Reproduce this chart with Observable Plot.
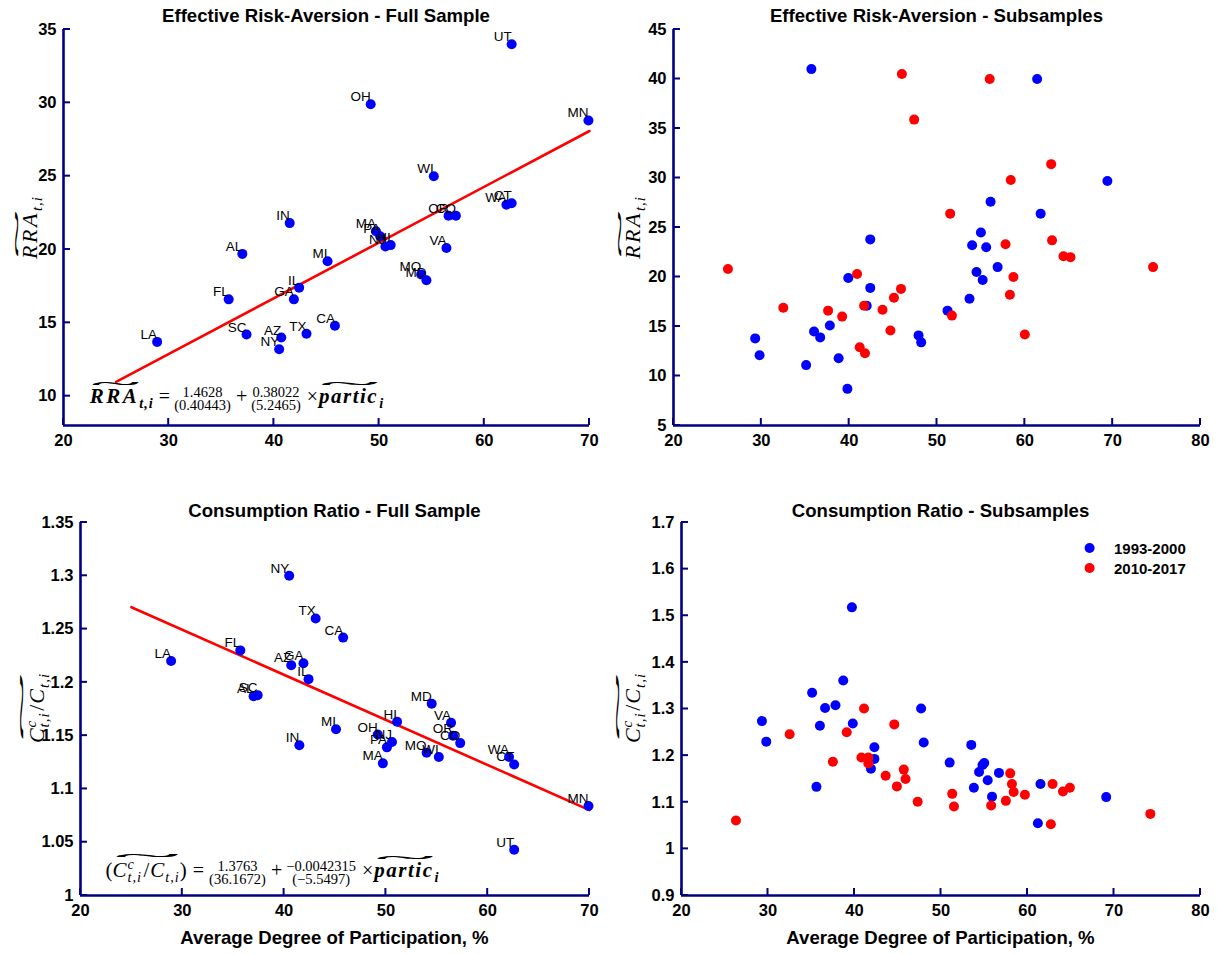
<!DOCTYPE html>
<html><head><meta charset="utf-8">
<script src="https://cdn.jsdelivr.net/npm/d3@7"></script>
<script src="https://cdn.jsdelivr.net/npm/@observablehq/plot@0.6"></script>
<style>
html,body{margin:0;padding:0;background:#fff;}
#wrap{position:relative;width:1217px;height:954px;overflow:hidden;background:#fff;}
#wrap > svg{position:absolute;}
</style></head>
<body><div id="wrap"></div>
<script>
const SANS = "'Liberation Sans', Arial, Helvetica, sans-serif";
const SERIF = "'Liberation Serif', 'Times New Roman', serif";
const BLUE = "#0000ff", RED = "#ff0000", INK = "#000080";

// ---------- Full sample: state averages ----------
const states     = ["UT","OH","MN","WI","WA","CT","OR","CO","VA","IN","MA","PA","NJ","HI","AL","SC","MI","MO","MD","IL","FL","GA","AZ","CA","TX","LA","NY"];
const fullPartic = [62.6,49.2,69.9,55.2,62.1,62.6,56.6,57.3,56.4,41.5,49.7,50.1,50.6,51.1,37.0,37.4,45.1,54.0,54.5,42.4,35.7,41.9,40.7,45.8,43.1,28.9,40.5];
const fullRRA    = [34.0,29.9,28.8,25.0,23.05,23.15,22.3,22.3,20.1,21.8,21.25,20.9,20.2,20.3,19.7,14.2,19.2,18.3,17.9,17.4,16.6,16.6,14.0,14.8,14.25,13.7,13.2];
const fullCons   = [1.043,1.151,1.084,1.130,1.130,1.123,1.150,1.143,1.162,1.141,1.124,1.139,1.144,1.163,1.187,1.188,1.156,1.134,1.180,1.203,1.230,1.218,1.216,1.242,1.260,1.220,1.300];

// fitted lines (end points)
const fitX    = [25, 70];
const fitRRA  = [10.97, 28.08];
const fitCons = [1.2705, 1.0801];

// ---------- Subsamples ----------
const periods = ["1993-2000", "2010-2017"];
const rra93x = [29.3,29.8,35.1,36.0,36.7,37.8,38.8,39.8,39.9,42.4,42.4,42.0,47.9,48.2,51.2,53.7,54.0,54.5,55.0,55.2,55.6,56.9,35.7,61.4,69.4,56.1,61.8];
const rra93y = [13.8,12.1,11.1,14.5,13.9,15.1,11.8,8.7,19.9,23.8,18.9,17.1,14.1,13.4,16.6,17.8,23.2,20.5,24.5,19.7,23.0,21.0,41.0,40.0,29.7,27.6,26.4];
const rra10x = [26.2,32.5,37.6,39.2,40.9,41.2,41.8,41.7,43.8,44.7,45.1,45.9,46.0,47.4,51.5,51.7,56.0,57.8,58.4,58.7,58.3,60.0,63.0,63.1,64.4,65.2,74.6];
const rra10y = [20.8,16.9,16.6,16.0,20.3,12.9,12.3,17.1,16.7,14.6,17.9,18.8,40.5,35.9,26.4,16.1,40.0,23.3,29.8,20.0,18.2,14.2,31.4,23.7,22.1,22.0,21.0];
const cons93x = [29.3,29.8,35.6,36.0,36.6,37.8,39.8,42.3,42.3,41.9,47.7,48.0,51.0,53.5,53.8,54.4,54.8,55.0,55.4,55.9,56.7,61.5,61.2,69.1,39.7,38.7,35.1];
const cons93y = [1.274,1.230,1.133,1.264,1.302,1.308,1.269,1.218,1.193,1.172,1.301,1.228,1.185,1.223,1.131,1.165,1.180,1.184,1.147,1.112,1.163,1.139,1.055,1.111,1.518,1.361,1.335];
const cons10x = [26.3,32.5,37.5,39.1,40.8,41.6,41.6,41.1,43.6,44.6,44.9,45.7,45.9,47.3,51.3,51.5,55.8,57.5,58.0,58.2,58.4,59.7,62.9,62.7,64.1,64.9,74.2];
const cons10y = [1.061,1.246,1.187,1.250,1.196,1.196,1.183,1.301,1.157,1.267,1.134,1.170,1.150,1.101,1.118,1.091,1.093,1.103,1.162,1.139,1.122,1.116,1.139,1.053,1.123,1.131,1.075];

// ---------- ticks & texts ----------
const xTicksFull = [20,30,40,50,60,70];
const xTicksSub  = [20,30,40,50,60,70,80];
const yTicksRRAFull  = [10,15,20,25,30,35];
const yTicksRRASub   = [5,10,15,20,25,30,35,40,45];
const yTicksConsFull = [1,1.05,1.1,1.15,1.2,1.25,1.3,1.35];
const yTicksConsSub  = [0.9,1,1.1,1.2,1.3,1.4,1.5,1.6,1.7];
const titles = ["Effective Risk-Aversion - Full Sample","Effective Risk-Aversion - Subsamples","Consumption Ratio - Full Sample","Consumption Ratio - Subsamples"];
const xLabel = "Average Degree of Participation, %";

const full = states.map((s, i) => ({s, p: fullPartic[i], rra: fullRRA[i], c: fullCons[i]}));
const fitData = fitX.map((x, i) => ({x, rra: fitRRA[i], c: fitCons[i]}));
const pts = (xs, ys) => xs.map((x, i) => ({x, y: ys[i]}));

const wrap = document.getElementById("wrap");
const fmt = d => String(+d.toFixed(2));

function panel(o) {
  const [x0, x1] = o.xd, [y0, y1] = o.yd;
  const svg = Plot.plot({
    width: o.w, height: o.h,
    marginLeft: o.ml, marginRight: o.mr, marginTop: o.mt, marginBottom: o.mb,
    x: {domain: o.xd}, y: {domain: o.yd},
    style: {fontFamily: SANS, fontSize: "16.5px", fontWeight: "bold", color: "black", background: "white", overflow: "visible"},
    marks: [
      Plot.axisX({ticks: o.xt, tickSize: 0, tickPadding: 9, label: null, tickFormat: fmt}),
      Plot.axisY({ticks: o.yt, tickSize: 0, tickPadding: 7, label: null, tickFormat: fmt}),
      ...o.marks,
      Plot.ruleX([x0], {y1: y0, y2: y1, stroke: INK, strokeWidth: 2.6}),
      Plot.ruleY([y0], {x1: x0, x2: x1, stroke: INK, strokeWidth: 2.6})
    ]
  });
  svg.style.left = o.left + "px";
  svg.style.top = o.top + "px";
  wrap.appendChild(svg);
  // inward ticks, placed with the plot's own scales
  const sx = svg.scale("x"), sy = svg.scale("y");
  const X0 = sx.apply(x0), Y0 = sy.apply(y0);
  const g = d3.select(svg).append("g");
  o.xt.forEach(t => {
    const X = sx.apply(t);
    g.append("rect").attr("x", X - 1).attr("y", Y0 - 7).attr("width", 2).attr("height", 7).attr("fill", INK);
  });
  o.yt.forEach(t => {
    const Y = sy.apply(t);
    g.append("rect").attr("x", X0).attr("y", Y - 1).attr("width", 7).attr("height", 2).attr("fill", INK);
  });
  return svg;
}

// ---- text helpers ----
function put(g, x, y, str, o = {}) {
  const t = g.append("text").attr("x", x).attr("y", y).text(str)
    .attr("font-family", o.family || SERIF).attr("font-size", o.size || 19)
    .attr("font-style", o.italic ? "italic" : "normal")
    .attr("font-weight", o.bold ? "bold" : "normal")
    .attr("letter-spacing", o.ls || 0)
    .attr("text-anchor", o.anchor || "start").attr("fill", "#000");
  return t.node().getComputedTextLength();
}
function tilde(g, x0, x1, yc) {
  const fs = 16, sy = 0.85;
  const t = g.append("text").text("~").attr("font-family", SERIF).attr("font-size", fs)
    .attr("text-anchor", "middle").attr("fill", "#000");
  const base = t.node().getComputedTextLength();
  const sx = (x1 - x0) / base;
  t.attr("transform", `translate(${(x0 + x1) / 2},${yc + 0.27 * fs * sy}) scale(${sx},${sy})`);
}
function textWidth(g, str, size) {
  const t = g.append("text").attr("font-family", SERIF).attr("font-size", size).text(str);
  const w = t.node().getComputedTextLength(); t.remove(); return w;
}
function frac(g, x, y, num, den, size) {
  const w = Math.max(textWidth(g, num, size), textWidth(g, den, size));
  put(g, x + w / 2, y - 6.5, num, {size, anchor: "middle"});
  put(g, x + w / 2, y + 7, den, {size, anchor: "middle"});
  return w;
}
function rraSymbol(g, x, y, size, bold) {
  const w = put(g, x, y, "RRA", {size, italic: true, bold, ls: 2.5});
  tilde(g, x + 2, x + w, y - size * 0.86);
  const ws = put(g, x + w, y + 4.5, "t,i", {size: size * 0.68, italic: true, bold, ls: 1});
  return w + ws;
}
function consSymbol(g, x, y, size) {
  let cx = x;
  cx += put(g, cx, y, "C", {size, italic: true}) + 1;
  const a = put(g, cx, y - 8.5, "c", {size: size * 0.68, italic: true});
  const b = put(g, cx, y + 5, "t,i", {size: size * 0.68, italic: true, ls: 1});
  cx += Math.max(a, b) + 1.5;
  cx += put(g, cx, y, "/", {size}) + 1;
  cx += put(g, cx, y, "C", {size, italic: true}) + 1;
  cx += put(g, cx, y + 5, "t,i", {size: size * 0.68, italic: true, ls: 1});
  tilde(g, x + 3, cx - 1, y - size * 0.95);
  return cx - x;
}
function particSymbol(g, x, y, size) {
  const w = put(g, x, y, "partic", {size, italic: true, bold: true, ls: 1.5});
  tilde(g, x + 2, x + w, y - size * 0.86);
  const ws = put(g, x + w + 1, y + 4.5, "i", {size: size * 0.68, italic: true, bold: true});
  return w + 1 + ws;
}
function yLabel(svg, bx, cy, kind) {
  const g = d3.select(svg).append("g");
  const inner = g.append("g");
  if (kind === "rra") rraSymbol(inner, 0, 0, 22, false);
  else consSymbol(inner, 0, 0, 22);
  const bb = inner.node().getBBox();
  inner.attr("transform", `translate(${-bb.x - bb.width / 2},0)`);
  g.attr("transform", `translate(${bx},${cy}) rotate(-90)`);
}
function title(svg, o, str, y) {
  const cx = (o.ml + o.w - o.mr) / 2;
  put(d3.select(svg), cx, y, str, {family: SANS, size: 18.6, bold: true, anchor: "middle"});
}
function xTitle(svg, o, y) {
  const cx = (o.ml + o.w - o.mr) / 2;
  put(d3.select(svg), cx, y, xLabel, {family: SANS, size: 18.6, bold: true, anchor: "middle"});
}

const dotOpts = {r: 5, stroke: null};
const labelOpts = {textAnchor: "end", lineAnchor: "bottom", dx: 0, dy: -3, fontSize: 13.5, fontWeight: "normal", fill: "#000", fontFamily: SANS};

// ---------- Panel 1: RRA full sample ----------
const o1 = {left: 0, top: 0, w: 605, h: 470, ml: 63, mr: 16, mt: 29, mb: 45,
  xd: [20, 70], yd: [8, 35], xt: xTicksFull, yt: yTicksRRAFull,
  marks: [
    Plot.line(fitData, {x: "x", y: "rra", stroke: RED, strokeWidth: 2.6}),
    Plot.dot(full, {x: "p", y: "rra", fill: BLUE, ...dotOpts}),
    Plot.text(full, {x: "p", y: "rra", text: "s", ...labelOpts})
  ]};
const s1 = panel(o1);
title(s1, o1, titles[0], 22);
yLabel(s1, 37, 228, "rra");
{
  const g = d3.select(s1).append("g");
  const sx = s1.scale("x");
  let x = sx.apply(22.55), y = 403;
  x += rraSymbol(g, x, y, 21, true) + 5;
  x += put(g, x, y, "=", {size: 20}) + 4;
  x += frac(g, x, y, "1.4628", "(0.40443)", 14.5) + 5;
  x += put(g, x, y, "+", {size: 20}) + 4;
  x += frac(g, x, y, "0.38022", "(5.2465)", 14.5) + 6;
  x += put(g, x, y, "×", {size: 20}) + 1;
  particSymbol(g, x, y, 21);
}

// ---------- Panel 2: RRA subsamples ----------
const o2 = {left: 608, top: 0, w: 605, h: 470, ml: 65, mr: 13, mt: 29, mb: 45,
  xd: [20, 80], yd: [5, 45], xt: xTicksSub, yt: yTicksRRASub,
  marks: [
    Plot.dot(pts(rra93x, rra93y), {x: "x", y: "y", fill: BLUE, ...dotOpts}),
    Plot.dot(pts(rra10x, rra10y), {x: "x", y: "y", fill: RED, ...dotOpts})
  ]};
const s2 = panel(o2);
title(s2, o2, titles[1], 22);
yLabel(s2, 32, 228, "rra");

// ---------- Panel 3: consumption ratio full sample ----------
const o3 = {left: 0, top: 490, w: 605, h: 464, ml: 80, mr: 16, mt: 32, mb: 59,
  xd: [20, 70], yd: [1, 1.35], xt: xTicksFull, yt: yTicksConsFull,
  marks: [
    Plot.line(fitData, {x: "x", y: "c", stroke: RED, strokeWidth: 2.6}),
    Plot.dot(full, {x: "p", y: "c", fill: BLUE, ...dotOpts}),
    Plot.text(full, {x: "p", y: "c", text: "s", ...labelOpts})
  ]};
const s3 = panel(o3);
title(s3, o3, titles[2], 27);
xTitle(s3, o3, 454);
yLabel(s3, 44, 218, "cons");
{
  const g = d3.select(s3).append("g");
  const sx = s3.scale("x");
  let x = sx.apply(22.5), y = 387;
  x += put(g, x, y, "(", {size: 21});
  x += consSymbol(g, x, y, 21);
  x += put(g, x, y, ")", {size: 21}) + 6;
  x += put(g, x, y, "=", {size: 20}) + 5;
  x += frac(g, x, y, "1.3763", "(36.1672)", 14.5) + 5;
  x += put(g, x, y, "+", {size: 20}) + 4;
  x += frac(g, x, y, "\u22120.0042315", "(\u22125.5497)", 14.5) + 6;
  x += put(g, x, y, "×", {size: 20}) + 1;
  particSymbol(g, x, y, 21);
}

// ---------- Panel 4: consumption ratio subsamples ----------
const o4 = {left: 608, top: 490, w: 605, h: 464, ml: 73, mr: 13, mt: 32, mb: 59,
  xd: [20, 80], yd: [0.9, 1.7], xt: xTicksSub, yt: yTicksConsSub,
  marks: [
    Plot.dot(pts(cons93x, cons93y), {x: "x", y: "y", fill: BLUE, ...dotOpts}),
    Plot.dot(pts(cons10x, cons10y), {x: "x", y: "y", fill: RED, ...dotOpts})
  ]};
const s4 = panel(o4);
title(s4, o4, titles[3], 27);
xTitle(s4, o4, 454);
yLabel(s4, 32, 218, "cons");
{
  const g = d3.select(s4).append("g");
  [[BLUE, periods[0], 58], [RED, periods[1], 78]].forEach(([c, t, y]) => {
    g.append("circle").attr("cx", 481.6).attr("cy", y).attr("r", 5).attr("fill", c);
    put(g, 506, y + 5.5, t, {family: SANS, size: 15, bold: true});
  });
}
</script>
</body></html>
